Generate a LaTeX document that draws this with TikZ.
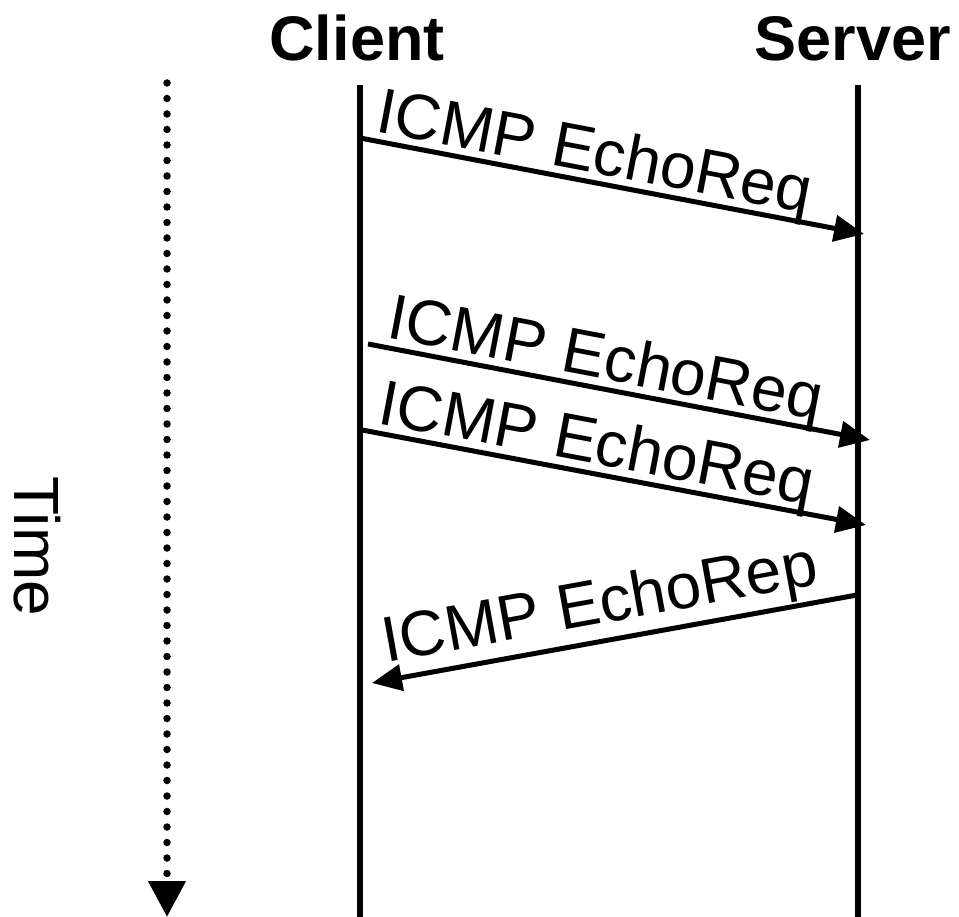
\documentclass[tikz,border=0pt]{standalone}
\usepackage{fontspec}
\setmainfont{Liberation Sans}
\usetikzlibrary{arrows.meta}
\begin{document}
\begin{tikzpicture}[x=1pt,y=-1pt,
  life/.style={line width=6pt},
  msg/.style={line width=5pt,-{Triangle[length=30pt,width=26pt]}},
  lbl/.style={sloped,anchor=south,text depth=0pt,inner xsep=0pt,inner ysep=#1,font=\fontsize{64}{70}\selectfont},
  lbl/.default=7pt,
  headtxt/.style={font=\bfseries\fontsize{63}{70}\selectfont,inner sep=0pt,anchor=base},
  timeline/.style={line width=7.5pt,line cap=round,dash pattern=on 0pt off 15.5pt,-{Triangle[length=36pt,width=36pt]}}]
\useasboundingbox (0,0) rectangle (959,917);
% headers
\node[headtxt] (client) at (357,61) {Client};
\node[headtxt] (server) at (853,61) {Server};
% lifelines
\coordinate (ctop) at (360,85);
\coordinate (cbot) at (360,917);
\coordinate (stop) at (858,85);
\coordinate (sbot) at (858,917);
\draw[life] (ctop) -- (cbot);
\draw[life] (stop) -- (sbot);
% time axis
\coordinate (ttop) at (167,83);
\coordinate (tbot) at (167,917);
\draw[timeline] (ttop) -- (tbot);
\node[rotate=-90,anchor=base,inner sep=0pt,font=\fontsize{64}{70}\selectfont] (time) at (15,546) {Time};
% messages
\coordinate (c1) at (360,138);
\coordinate (s1) at (864,234);
\coordinate (c2) at (368,344);
\coordinate (s2) at (870,440);
\coordinate (c3) at (362,430);
\coordinate (s3) at (866,525);
\coordinate (s4) at (857,595);
\coordinate (c4) at (372,683);
\draw[msg] (c1) -- node[lbl,pos=0.455] (l1) {ICMP EchoReq} (s1);
\draw[msg] (c2) -- node[lbl,pos=0.462] (l2) {ICMP EchoReq} (s2);
\draw[msg] (c3) -- node[lbl,pos=0.455] (l3) {ICMP EchoReq} (s3);
\draw[msg] (s4) -- node[lbl=15pt,pos=0.517] (l4) {ICMP EchoRep} (c4);
\end{tikzpicture}
\end{document}
